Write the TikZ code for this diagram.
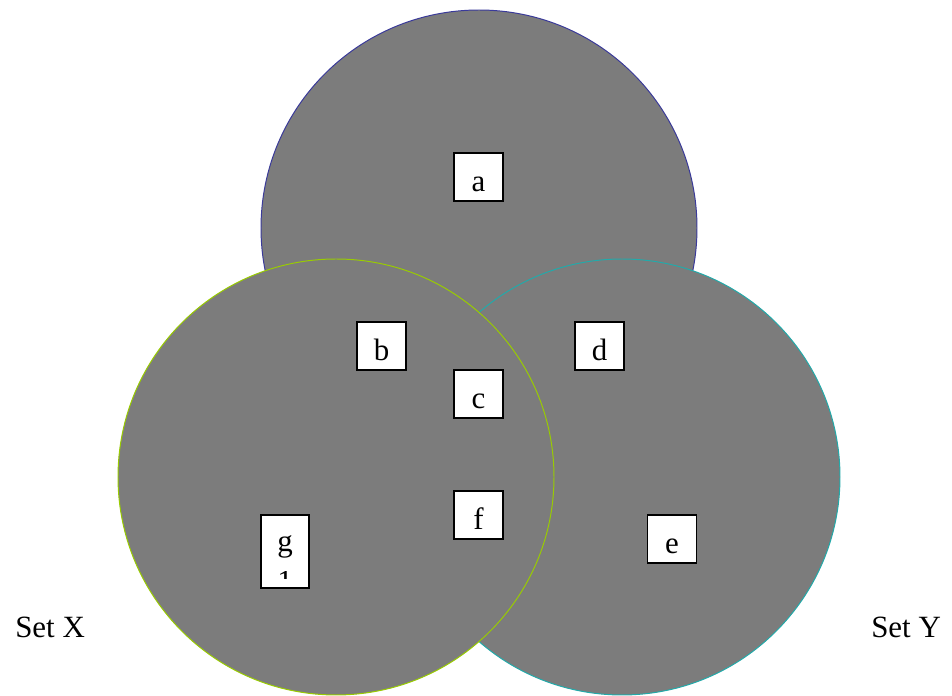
\documentclass[tikz,border=0pt]{standalone}
\usepackage{fontspec}
\setmainfont{Liberation Serif}
\usepackage{trimclip}
\definecolor{vnBlue}{HTML}{3A3A9A}
\definecolor{vnLime}{HTML}{99CC00}
\definecolor{vnTeal}{HTML}{22AAAA}
\definecolor{vnFill}{HTML}{7C7C7C}
\usetikzlibrary{positioning}

\begin{document}
\begin{tikzpicture}[
  font=\fontsize{22}{26}\selectfont,
  setdisc/.style={line width=0.7pt,fill=vnFill},
  letterbox/.style={draw=black,line width=1.1pt,fill=white,inner sep=0pt,
                    minimum width=1.225cm,minimum height=1.2cm,text height=20pt,text depth=0pt},
  setname/.style={anchor=base west,inner sep=0pt}
]
\useasboundingbox (0,0) rectangle (23.8,17.4);

% the three sets
\draw[setdisc,draw=vnBlue] (11.975,11.70) circle[radius=5.45];
\draw[setdisc,draw=vnTeal] (15.55,5.475) circle[radius=5.45];
\draw[setdisc,draw=vnLime] (8.40,5.475) circle[radius=5.45];

% region labels
\node[letterbox] (a) at (11.96,12.975) {a};
\node[letterbox] (b) at (9.54,8.75)    {b};
\node[letterbox] (c) at (11.96,7.55)   {c};
\node[letterbox] (d) at (14.99,8.75)   {d};
\node[letterbox] (f) at (11.96,4.525)  {f};
\node[letterbox] (e) at (16.80,3.925)  {e};
\node[letterbox,minimum width=1.2cm,minimum height=1.825cm,text depth=20pt] (g) at (7.125,3.6125) {g};
\node[anchor=north,inner sep=0pt] (g1) at (7.125,3.125) {\clipbox{0pt {0.66\height} 0pt 0pt}{1}};

\node[setname] (setX) at (0.375,1.45)  {Set X};
\node[setname] (setY) at (21.775,1.45) {Set Y};
\end{tikzpicture}
\end{document}
